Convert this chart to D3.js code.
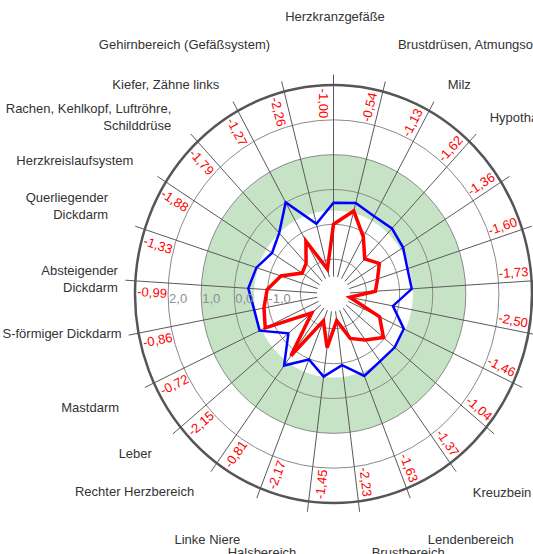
<!DOCTYPE html>
<html>
<head>
<meta charset="UTF-8">
<style>
    body { margin: 0; background: #fff; }
    svg { display: block; font-family: "Liberation Sans", Arial, sans-serif; }
</style>
</head>
<body>
<svg id="chart"></svg>
<script src="https://d3js.org/d3.v7.min.js"></script>
<script>

    // categories clockwise from the top spoke
    const categories = [
        "Herzkranzgefäße",
        "Brustdrüsen, Atmungsorgane",
        "Milz",
        "Hypothalamus",
        "Kiefer, Zähne rechts",
        "Rechte Niere",
        "Linker Herzbereich",
        "Magen",
        "Gallenblase",
        "Dünndarm",
        "Kreuzbein",
        "Lendenbereich",
        "Brustbereich",
        "Halsbereich",
        "Linke Niere",
        "Rechter Herzbereich",
        "Leber",
        "Mastdarm",
        "S-förmiger Dickdarm",
        "Absteigender\nDickdarm",
        "Querliegender\nDickdarm",
        "Herzkreislaufsystem",
        "Rachen, Kehlkopf, Luftröhre,\nSchilddrüse",
        "Kiefer, Zähne links",
        "Gehirnbereich (Gefäßsystem)"
    ];

    const redValues = [-1.00, -0.54, -1.13, -1.62, -1.36, -1.60, -1.73, -2.50, -1.46, -1.04,
        -1.37, -1.63, -2.23, -1.45, -2.17, -0.81, -2.15, -0.72, -0.86, -0.99,
        -1.33, -1.88, -1.79, -1.27, -2.26];

    const blueValues = [-0.38, -0.30, -0.45, -0.42, -0.51, -0.65, -0.63, -1.17, -0.65, -0.60,
        -0.61, -0.47, -0.94, -0.61, -0.98, -0.46, -1.23, -0.53, -0.56, -0.42,
        -0.55, -0.80, -0.60, 0.00, -0.92];

    const gridValues = [-2, -1, 0, 1, 2];
    const tickValues = [-1, 0, 1, 2];
    const tickLabels = ["-1,0", "0,0", "1,0", "2,0"];
    const bandRange = [-0.6, 1.0];

    // small hand nudges for the outer category labels
    const labelShift = [[1.5, -28], [5.5, -8], [0, 9], [-6, 5], [6, 0], [0, 0], [0, 0], [0, 0], [0, 0], [20, 0],
        [0, -3], [7, 13], [8.5, 11], [-7.5, 11], [-6, 13], [0, -4], [1, 0], [0, 7], [21, -7], [21, 1],
        [0, -11], [0, 0], [0, 5], [0, 9], [-4.5, -8]];

    let width = 533, height = 554;
    let cx = 333.5, cy = 294, RX = 198.5, RY = 209;
    let n = categories.length;

    let svg = d3.select("#chart").attr("width", width).attr("height", height);

    let r = d3.scaleLinear().domain([-3, 3]).range([0, RX]);
    let angle = d3.scaleLinear().domain([0, n]).range([0, 2 * Math.PI]);

    let de = d3.formatLocale({ decimal: ",", thousands: ".", grouping: [3], currency: ["", "€"], minus: "-" });
    let fmt = de.format(".2f");

    let g = svg.append("g")
        .attr("transform", `translate(${cx},${cy}) scale(1,${RY / RX})`);

    // green band
    g.append("circle").attr("r", r(bandRange[1])).attr("fill", "#c6e3c6");
    g.append("circle").attr("r", r(bandRange[0])).attr("fill", "#fff");

    // grid rings
    g.selectAll("circle.grid")
        .data(gridValues)
        .enter()
        .append("circle")
        .attr("class", "grid")
        .attr("r", d => r(d))
        .attr("fill", "none")
        .attr("stroke", "#8a8a8a")
        .attr("stroke-width", 1)
        .attr("vector-effect", "non-scaling-stroke");

    // spokes
    g.selectAll("line.spoke")
        .data(categories)
        .enter()
        .append("line")
        .attr("class", "spoke")
        .attr("x1", (d, i) => r(-2.5) * Math.sin(angle(i)))
        .attr("y1", (d, i) => -r(-2.5) * Math.cos(angle(i)))
        .attr("x2", (d, i) => (r(3) + 10) * Math.sin(angle(i)))
        .attr("y2", (d, i) => -(r(3) + 10) * Math.cos(angle(i)))
        .attr("stroke", "#5a5a5a")
        .attr("stroke-width", 1)
        .attr("vector-effect", "non-scaling-stroke");

    // outer ring
    g.append("circle")
        .attr("r", r(3))
        .attr("fill", "none")
        .attr("stroke", "#555")
        .attr("stroke-width", 2.5)
        .attr("vector-effect", "non-scaling-stroke");

    let radial = d3.lineRadial()
        .angle((d, i) => angle(i))
        .radius(d => r(d))
        .curve(d3.curveLinearClosed);

    g.append("path")
        .attr("d", radial(blueValues))
        .attr("fill", "none")
        .attr("stroke", "#0000ff")
        .attr("stroke-width", 2.5)
        .attr("stroke-linejoin", "miter")
        .attr("vector-effect", "non-scaling-stroke");

    g.append("path")
        .attr("d", radial(redValues))
        .attr("fill", "none")
        .attr("stroke", "#ff0000")
        .attr("stroke-width", 3.5)
        .attr("stroke-linejoin", "miter")
        .attr("vector-effect", "non-scaling-stroke");

    // axis tick labels along the left
    svg.selectAll("text.tick")
        .data(tickValues)
        .enter()
        .append("text")
        .attr("class", "tick")
        .attr("x", d => cx - r(d) + 1)
        .attr("y", cy + 8.5)
        .attr("font-size", 13)
        .attr("fill", "#8a8f99")
        .text((d, i) => tickLabels[i]);

    // red value labels along each spoke
    svg.selectAll("text.val")
        .data(redValues)
        .enter()
        .append("text")
        .attr("class", "val")
        .attr("font-size", 13)
        .attr("fill", "#ff0000")
        .attr("text-anchor", "middle")
        .each(function (d, i) {
            let a = angle(i);
            let th = Math.atan2(-Math.cos(a) * RY, Math.sin(a) * RX) * 180 / Math.PI;
            let flip = false;
            if (th <= -89.9 || th > 90) { th = th > 0 ? th - 180 : th + 180; flip = true; }
            let mx = cx + 0.912 * RX * Math.sin(a), my = cy - 0.912 * RY * Math.cos(a);
            d3.select(this)
                .attr("transform", `translate(${mx},${my}) rotate(${th})`)
                .attr("y", flip ? 15 : -5)
                .text(fmt(d));
        });

    // outer category labels
    let lab = svg.selectAll("text.cat")
        .data(categories)
        .enter()
        .append("text")
        .attr("class", "cat")
        .attr("font-size", 13)
        .attr("fill", "#333")
        .each(function (d, i) {
            let a = angle(i);
            let s = Math.sin(a);
            let px = cx + 1.194 * RX * s + labelShift[i][0];
            let py = cy - 1.194 * RY * Math.cos(a) + labelShift[i][1];
            let lines = d.split("\n");
            let t = d3.select(this)
                .attr("text-anchor", s > 0.1 ? "start" : s < -0.1 ? "end" : "middle");
            lines.forEach((ln, k) => {
                t.append("tspan")
                    .attr("x", px)
                    .attr("y", py - (lines.length - 1) * 17 / 2 + k * 17 + 4.5)
                    .text(ln);
            });
        });

</script>
</body>
</html>
